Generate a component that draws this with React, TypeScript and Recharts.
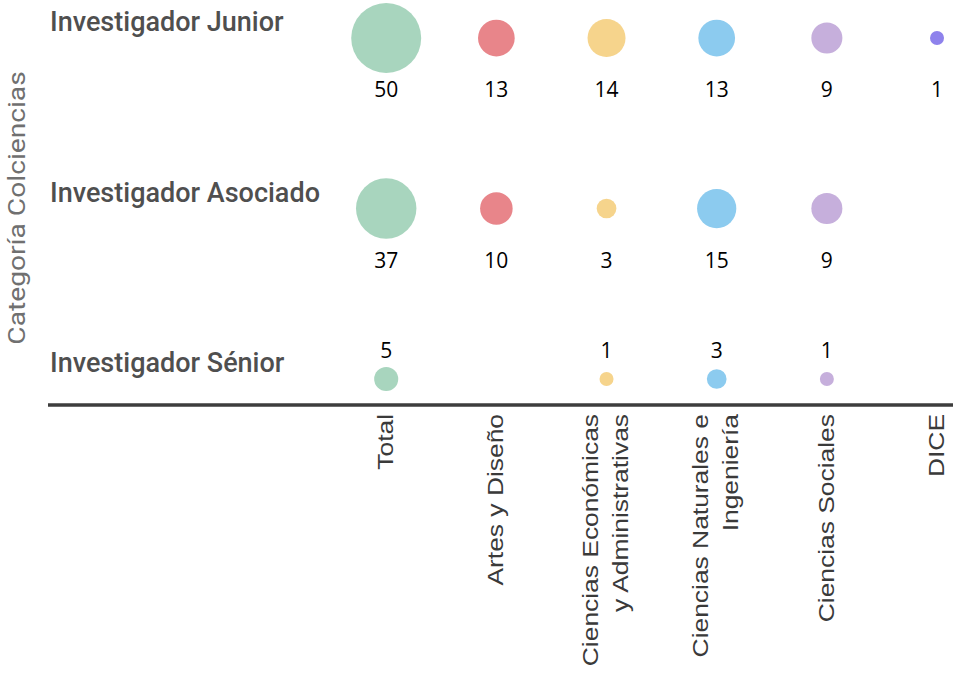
import React from "react";
import { ScatterChart, Scatter, XAxis, YAxis, ZAxis, Customized } from "recharts";

const categories = [
  "Total",
  "Artes y Diseño",
  "Ciencias Económicas y Administrativas",
  "Ciencias Naturales e Ingeniería",
  "Ciencias Sociales",
  "DICE",
];
const categoryLines = [
  ["Total"],
  ["Artes y Diseño"],
  ["Ciencias Económicas", "y Administrativas"],
  ["Ciencias Naturales e", "Ingeniería"],
  ["Ciencias Sociales"],
  ["DICE"],
];
const levels = ["Investigador Sénior", "Investigador Asociado", "Investigador Junior"];

const senior = [5, null, 1, 3, 1, null];
const asociado = [37, 10, 3, 15, 9, null];
const junior = [50, 13, 14, 13, 9, 1];

const colors = ["#a8d5be", "#e8858a", "#f6d48c", "#8ccbef", "#c6afdc", "#8e82ec"];

const rows = [senior, asociado, junior];
const points = rows.flatMap((vals, level) =>
  vals
    .map((v, i) => (v == null ? null : { x: i, y: level, z: v, name: categories[i] }))
    .filter(Boolean)
);

function Bubble(props: any) {
  const { cx, cy, payload } = props;
  const r = props.width ? props.width / 2 : Math.sqrt(props.size / Math.PI);
  // bottom row has its number above the bubble
  const above = payload.y === 0;
  return (
    <g>
      <circle cx={cx} cy={cy} r={r} fill={colors[payload.x]} />
      <text
        x={cx}
        y={above ? cy - 21 : cy + 59}
        textAnchor="middle"
        fontFamily="'Open Sans', sans-serif"
        fontSize={21}
        fill="#000"
      >
        {payload.z}
      </text>
    </g>
  );
}

function XTick(props: any) {
  const { x, y, payload } = props;
  const lines = categoryLines[payload.value] ?? [];
  const offsets = lines.length === 1 ? [7] : [-9, 21];
  return (
    <text
      transform={`translate(${x},${y + 1}) rotate(-90) scale(1.2,1)`}
      textAnchor="end"
      fontFamily="'Liberation Sans', Arial, sans-serif"
      fontSize={22}
      fill="#3a3a3a"
    >
      {lines.map((l, i) => (
        <tspan key={i} x={0} y={offsets[i]}>
          {l}
        </tspan>
      ))}
    </text>
  );
}

function YTick(props: any) {
  const { x, y, payload } = props;
  return (
    <text
      x={x + 10}
      y={y - 7}
      textAnchor="start"
      fontFamily="Roboto, sans-serif"
      fontWeight={500}
      fontSize={27}
      fill="#4f4f4f"
    >
      {levels[payload.value]}
    </text>
  );
}

function AxisTitle() {
  return (
    <text
      transform="translate(25,208) rotate(-90) scale(1.2,1)"
      textAnchor="middle"
      fontFamily="Roboto, sans-serif"
      fontSize={23.5}
      fill="#707070"
    >
      Categoría Colciencias
    </text>
  );
}

export default function App() {
  return (
    <div style={{ position: "absolute", left: 0, top: 0, background: "#fff" }}>
      <ScatterChart width={953} height={676} margin={{ top: 0, right: 0, bottom: 0, left: 0 }}>
        <XAxis
          dataKey="x"
          type="number"
          domain={[-3.07, 5.145]}
          ticks={[0, 1, 2, 3, 4, 5]}
          interval={0}
          height={271}
          tickLine={false}
          axisLine={{ stroke: "#3d3d3d", strokeWidth: 3.5 }}
          tick={<XTick />}
        />
        <YAxis
          dataKey="y"
          type="number"
          domain={[-0.1525, 2.223]}
          ticks={[0, 1, 2]}
          width={48}
          tickLine={false}
          axisLine={false}
          tick={<YTick />}
        />
        <ZAxis dataKey="z" type="number" domain={[1, 50]} range={[154, 3848]} />
        <Scatter data={points} shape={<Bubble />} isAnimationActive={false} />
        <Customized component={AxisTitle} />
      </ScatterChart>
    </div>
  );
}
